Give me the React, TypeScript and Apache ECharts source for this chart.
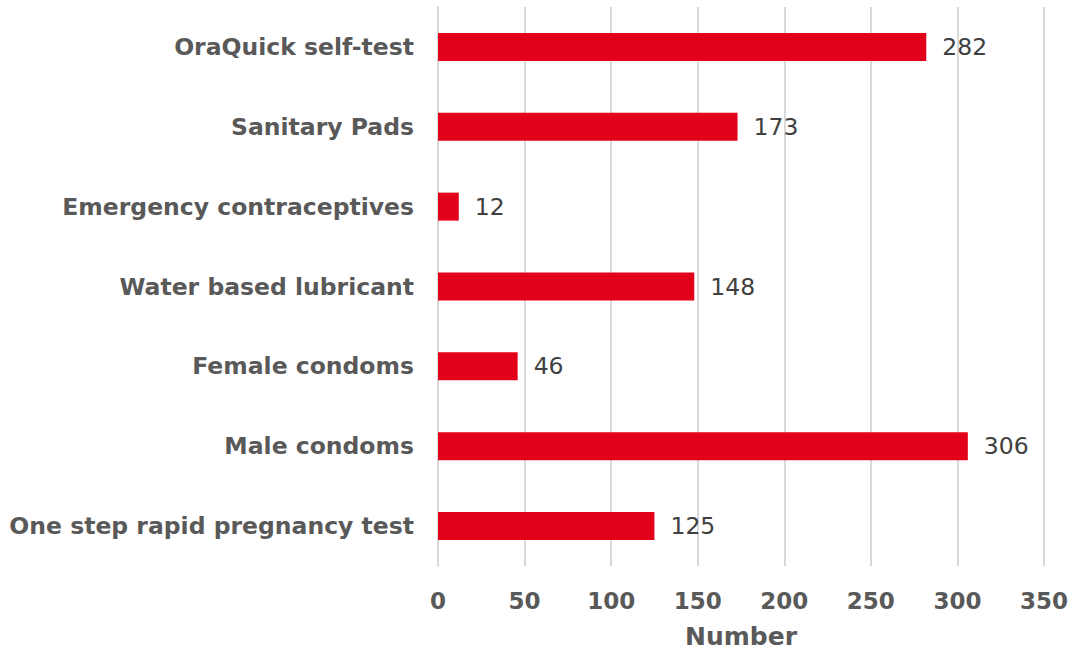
import React, { useEffect, useRef } from "react";
import * as echarts from "echarts";

const categories = [
  "One step rapid pregnancy test",
  "Male condoms",
  "Female condoms",
  "Water based lubricant",
  "Emergency contraceptives",
  "Sanitary Pads",
  "OraQuick self-test",
];
const values = [125, 306, 46, 148, 12, 173, 282];
const xTicks = [0, 50, 100, 150, 200, 250, 300, 350];

export default function App() {
  const ref = useRef<HTMLDivElement>(null);
  useEffect(() => {
    if (!ref.current) return;
    const chart = echarts.init(ref.current, undefined, { renderer: "svg" });
    chart.setOption({
      animation: false,
      grid: {
        left: 438,
        right: 30,
        top: 7,
        bottom: 84,
        containLabel: false,
        outerBoundsMode: "none",
      },
      xAxis: {
        type: "value",
        min: xTicks[0],
        max: xTicks[xTicks.length - 1],
        interval: 50,
        name: "Number",
        nameLocation: "middle",
        nameGap: 58,
        nameTextStyle: { fontFamily: "DejaVu Sans", fontWeight: "bold", fontSize: 25, color: "#595959" },
        axisLine: { show: false },
        axisTick: { show: false },
        axisLabel: {
          fontFamily: "DejaVu Sans",
          fontWeight: "bold",
          fontSize: 23,
          color: "#595959",
          margin: 23,
        },
        splitLine: { show: true, lineStyle: { color: "#d9d9d9", width: 2 } },
      },
      yAxis: {
        type: "category",
        data: categories,
        axisLine: { show: true, lineStyle: { color: "#d9d9d9", width: 2 } },
        axisTick: { show: false },
        axisLabel: {
          fontFamily: "DejaVu Sans",
          fontWeight: "bold",
          fontSize: 23.5,
          color: "#595959",
          margin: 24,
        },
      },
      series: [
        {
          type: "bar",
          data: values,
          barWidth: 28,
          itemStyle: { color: "#E2001A" },
          label: {
            show: true,
            position: "right",
            distance: 16,
            fontFamily: "DejaVu Sans",
            fontSize: 23.5,
            color: "#404040",
          },
        },
      ],
    });
    return () => chart.dispose();
  }, []);
  return <div ref={ref} style={{ width: 1074, height: 650, position: "absolute", left: 0, top: 0 }} />;
}
